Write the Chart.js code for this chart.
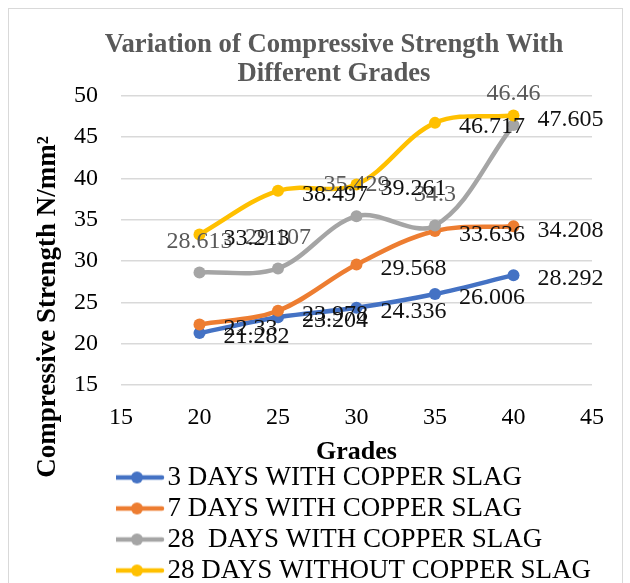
<!DOCTYPE html>
<html>
<head>
<meta charset="utf-8">
<script src="https://cdn.jsdelivr.net/npm/chart.js@4.4.1/dist/chart.umd.min.js"></script>
<style>
    html, body { margin: 0; padding: 0; background: #fff; }
    #wrap { position: relative; width: 630px; height: 583px; overflow: hidden; }
    #frame { position: absolute; left: 8px; top: 8px; width: 613px; height: 620px; border: 1px solid #d9d9d9; }
    canvas { position: absolute; left: 0; top: 0; }
</style>
</head>
<body>
<div id="wrap">
    <div id="frame"></div>
    <canvas id="chart" width="630" height="583"></canvas>
</div>
<script>
// --- DATA ---
const grades = [20, 25, 30, 35, 40];
const seriesNames = [
    '3 DAYS WITH COPPER SLAG',
    '7 DAYS WITH COPPER SLAG',
    '28  DAYS WITH COPPER SLAG',
    '28 DAYS WITHOUT COPPER SLAG'
];
const days3 = [21.282, 23.204, 24.336, 26.006, 28.292];
const days7 = [22.33, 23.978, 29.568, 33.636, 34.208];
const days28 = [28.613, 29.107, 35.429, 34.3, 46.46];
const days28NoSlag = [33.213, 38.497, 39.261, 46.717, 47.605];
const xTicks = [15, 20, 25, 30, 35, 40, 45];
const yTicks = [15, 20, 25, 30, 35, 40, 45, 50];

const series = [days3, days7, days28, days28NoSlag];

// --- STYLE ---
const FONT = "'Liberation Serif', 'Times New Roman', serif";
const colors = ['#4472C4', '#ED7D31', '#A5A5A5', '#FFC000'];
const labelSide = ['right', 'right', 'above', 'right'];
const labelColors = ['#111', '#111', '#595959', '#111'];

// legend symbol: line with a round marker
function legendSymbol(color) {
    const c = document.createElement('canvas');
    c.width = 56; c.height = 14;
    const g = c.getContext('2d');
    g.strokeStyle = color;
    g.lineWidth = 4.5;
    g.lineCap = 'round';
    g.beginPath(); g.moveTo(3, 7); g.lineTo(53, 7); g.stroke();
    g.fillStyle = color;
    g.beginPath(); g.arc(28, 7, 6, 0, Math.PI * 2); g.fill();
    return c;
}
const symbols = colors.map(legendSymbol);

// move title/legend like the Excel layout
const shiftBoxes = {
    id: 'shiftBoxes',
    afterLayout(chart) {
        const lg = chart.legend;
        lg.left += 116; lg.right += 116;
        lg.top += 3; lg.bottom += 3;
        const t = chart.titleBlock;
        t.left += 38; t.right += 38;
    }
};

// data labels next to each point
const pointLabels = {
    id: 'pointLabels',
    afterDatasetsDraw(chart) {
        const ctx = chart.ctx;
        ctx.save();
        ctx.font = '24px ' + FONT;
        ctx.textBaseline = 'middle';
        chart.data.datasets.forEach((ds, i) => {
            const meta = chart.getDatasetMeta(i);
            ctx.fillStyle = labelColors[i];
            meta.data.forEach((pt, j) => {
                const txt = String(series[i][j]);
                if (labelSide[i] === 'above') {
                    ctx.textAlign = 'center';
                    ctx.fillText(txt, pt.x, pt.y - 31);
                } else {
                    ctx.textAlign = 'left';
                    ctx.fillText(txt, pt.x + 24, pt.y + 4);
                }
            });
        });
        ctx.restore();
    }
};

// y axis title, centred like the reference
const yTitle = {
    id: 'yTitle',
    afterDraw(chart) {
        const ctx = chart.ctx;
        ctx.save();
        ctx.translate(48, 307);
        ctx.rotate(-Math.PI / 2);
        ctx.font = 'bold 27px ' + FONT;
        ctx.fillStyle = '#000';
        ctx.textAlign = 'center';
        ctx.textBaseline = 'middle';
        ctx.fillText('Compressive Strength N/mm\u00B2', 0, 0);
        ctx.restore();
    }
};

new Chart(document.getElementById('chart').getContext('2d'), {
    type: 'line',
    data: {
        datasets: series.map((vals, i) => ({
            label: seriesNames[i],
            data: grades.map((g, j) => ({ x: g, y: vals[j] })),
            borderColor: colors[i],
            backgroundColor: colors[i],
            borderWidth: 4.5,
            pointRadius: 6,
            pointHoverRadius: 6,
            pointBorderWidth: 0,
            tension: 0.35,
            fill: false,
            order: 3 - i
        }))
    },
    options: {
        responsive: false,
        animation: false,
        layout: { padding: { left: 0, right: 38, top: 0, bottom: -8 } },
        scales: {
            x: {
                type: 'linear',
                min: xTicks[0],
                max: xTicks[xTicks.length - 1],
                afterBuildTicks: s => { s.ticks = xTicks.map(v => ({ value: v })); },
                grid: { display: false, drawTicks: false },
                border: { display: false },
                ticks: { padding: 18, color: '#000', maxRotation: 0, font: { family: FONT, size: 24 } },
                title: {
                    display: true, text: 'Grades', color: '#000',
                    font: { family: FONT, size: 26, weight: 'bold' },
                    padding: { top: -13.4, bottom: -10.6 }
                }
            },
            y: {
                min: yTicks[0],
                max: yTicks[yTicks.length - 1],
                afterBuildTicks: s => { s.ticks = yTicks.map(v => ({ value: v })); },
                afterFit: s => { s.width = 121; },
                grid: { color: '#d9d9d9', lineWidth: 1.5, drawTicks: false },
                border: { display: false },
                ticks: { padding: 23, color: '#000', font: { family: FONT, size: 24 } }
            }
        },
        plugins: {
            title: {
                display: true,
                text: ['Variation of Compressive Strength With', 'Different Grades'],
                color: '#595959',
                font: { family: FONT, size: 26.7, weight: 'bold', lineHeight: 1.1 },
                padding: { top: 30, bottom: 7 }
            },
            legend: {
                position: 'bottom',
                align: 'start',
                labels: {
                    usePointStyle: true,
                    pointStyleWidth: 34,
                    padding: 4,
                    color: '#000',
                    font: { family: FONT, size: 27 },
                    generateLabels: chart => chart.data.datasets.map((ds, i) => ({
                        text: ds.label,
                        pointStyle: symbols[i],
                        fillStyle: colors[i],
                        strokeStyle: colors[i],
                        lineWidth: 0,
                        hidden: false,
                        datasetIndex: i
                    }))
                }
            },
            tooltip: { enabled: false }
        }
    },
    plugins: [shiftBoxes, pointLabels, yTitle]
});
</script>
</body>
</html>
